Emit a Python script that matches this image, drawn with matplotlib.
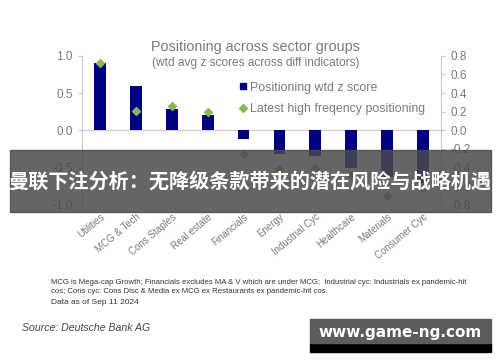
import matplotlib

matplotlib.use("Agg")

import matplotlib.pyplot as plt
from matplotlib.lines import Line2D
from matplotlib.patches import Rectangle
from matplotlib.ticker import FuncFormatter
import numpy as np

plt.rcParams["font.family"] = ["Liberation Sans", "DejaVu Sans"]

SECTORS = ["Utilities", "MCG & Tech", "Cons Staples", "Real estate", "Financials",
           "Energy", "Industrial Cyc", "Healthcare", "Materials", "Consumer Cyc"]
WTD_Z = [0.90, 0.59, 0.29, 0.21, -0.11, -0.32, -0.35, -0.50, -0.63, -0.71]
HIGH_FREQ = [0.72, 0.21, 0.26, 0.20, -0.25, -0.41, -0.40, -0.48, -0.70, -0.62]

NAVY = "#000080"
GREEN = "#8db652"
GREY = "#7a7a7a"


def fmt(v, _):
    s = f"{v:.1f}"
    return "0.0" if s == "-0.0" else s


fig = plt.figure(figsize=(5.0, 3.62), dpi=100)
ax = fig.add_axes([0.164, 0.434, 0.718, 0.412])
ax2 = ax.twinx()

x = np.arange(len(SECTORS))
ax.bar(x, WTD_Z, width=0.33, color=NAVY, zorder=3)
ax2.scatter(x, HIGH_FREQ, marker="D", s=16, color=GREEN, zorder=4)

ax.set_xlim(-0.5, 9.5)
ax.set_ylim(-1.0, 1.0)
ax2.set_ylim(-0.8, 0.8)
ax.set_yticks([-1.0, -0.5, 0.0, 0.5, 1.0])
ax2.set_yticks(np.round(np.arange(-0.8, 0.81, 0.2), 1))
ax.yaxis.set_major_formatter(FuncFormatter(fmt))
ax2.yaxis.set_major_formatter(FuncFormatter(fmt))
ax.axhline(0, color="#d0d0d0", lw=1.0, zorder=2)

for a in (ax, ax2):
    for s in ("top", "bottom"):
        a.spines[s].set_visible(False)
    a.spines["left"].set_color("#c8c8c8")
    a.spines["right"].set_color("#c8c8c8")
    a.tick_params(axis="y", colors="#c8c8c8", labelcolor=GREY, labelsize=8.5, length=3)
ax2.spines["left"].set_visible(False)
ax.spines["right"].set_visible(False)

ax.set_xticks(x)
ax.set_xticklabels(SECTORS, rotation=40, ha="right", rotation_mode="anchor",
                   fontsize=7.0, color=GREY)
ax.tick_params(axis="x", length=0, pad=5)

fig.text(0.51, 0.870, "Positioning across sector groups", ha="center", va="center",
         fontsize=10.4, color=GREY)
fig.text(0.511, 0.826, "(wtd avg z scores across diff indicators)", ha="center",
         va="center", fontsize=8.6, color=GREY)

handles = [
    Line2D([], [], marker="s", ls="", color=NAVY, markersize=5),
    Line2D([], [], marker="D", ls="", color=GREEN, markersize=4),
]
ax.legend(handles, ["Positioning wtd z score", "Latest high freqency positioning"],
          loc="upper left", bbox_to_anchor=(0.40, 0.90), frameon=False, fontsize=8.9,
          labelcolor=GREY, handletextpad=0.05, handlelength=1.0, labelspacing=0.75)

fig.text(0.102, 0.220, "MCG is Mega-cap Growth; Financials excludes MA & V which are under MCG;  "
         "Industrial cyc: Industrials ex pandemic-hit", fontsize=5.6, color="#333333",
         va="center")
fig.text(0.102, 0.196, "cos; Cons cyc: Cons Disc & Media ex MCG ex Restaurants ex pandemic-hit cos.",
         fontsize=5.6, color="#333333", va="center")
fig.text(0.102, 0.163, "Data as of Sep 11 2024", fontsize=6, color="#333333", va="center")
fig.text(0.044, 0.094, "Source: Deutsche Bank AG", fontsize=7.6, style="italic",
         color="#444444", va="center")

# overlay banner and watermark
fig.patches.append(Rectangle((0.02, 1 - 212 / 362), 0.962, 62 / 362,
                             transform=fig.transFigure, color="#4a4a4a", alpha=0.85,
                             zorder=10))
fig.text(0.5, 1 - 181 / 362, "曼联下注分析：无降级条款带来的潜在风险与战略机遇",
         ha="center", va="center", fontsize=14.5, color="white", weight="bold",
         family=["Noto Sans CJK SC", "DejaVu Sans"], zorder=11)
fig.patches.append(Rectangle((0.62, 1 - 352 / 362), 0.362, 9 / 362,
                             transform=fig.transFigure, color="black", zorder=10))
fig.patches.append(Rectangle((0.62, 1 - 343 / 362), 0.362, 24 / 362,
                             transform=fig.transFigure, color="#5c5c5c", zorder=10))
fig.text(0.80, 1 - 332 / 362, "www.game-ng.com", ha="center", va="center",
         fontsize=11, color="white", weight="bold", family=["DejaVu Sans"], zorder=11)

fig.savefig("out.png", dpi=100)
